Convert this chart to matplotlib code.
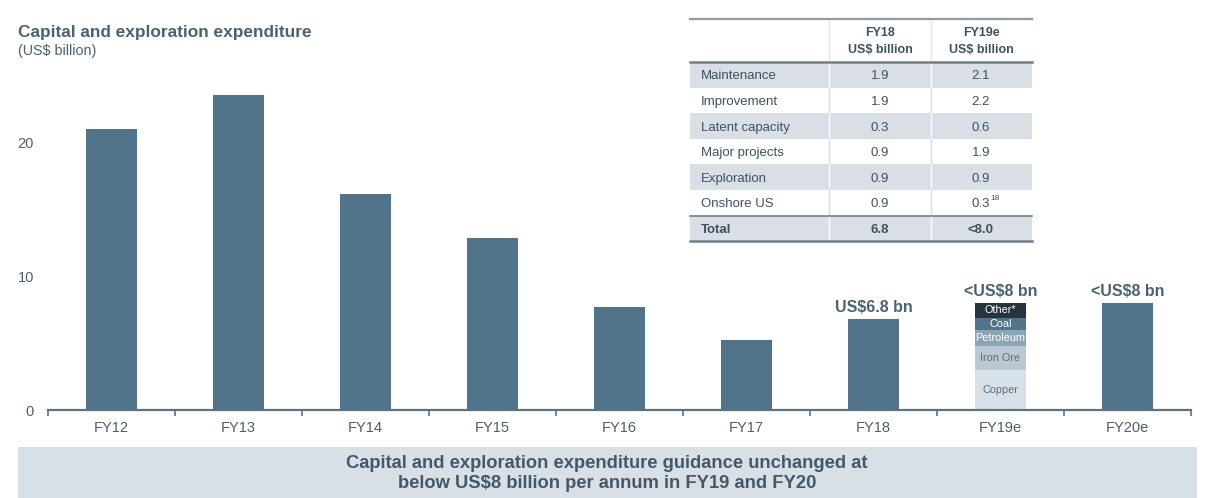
import matplotlib
matplotlib.use("Agg")
import matplotlib.pyplot as plt
from matplotlib.patches import Rectangle
from matplotlib.lines import Line2D

plt.rcParams['font.family'] = ['Liberation Sans', 'DejaVu Sans']

# ---------------- data ----------------
categories = ['FY12', 'FY13', 'FY14', 'FY15', 'FY16', 'FY17', 'FY18', 'FY19e', 'FY20e']
totals = [21.0, 23.5, 16.1, 12.8, 7.7, 5.2, 6.8, None, 8.0]
stack_labels = ['Copper', 'Iron Ore', 'Petroleum', 'Coal', 'Other*']
stack_values = [3.0, 1.8, 1.2, 0.9, 1.1]
bar_labels = {'FY18': 'US$6.8 bn', 'FY19e': '<US$8 bn', 'FY20e': '<US$8 bn'}
yticks = [0, 10, 20]

table_header = ['FY18\nUS$ billion', 'FY19e\nUS$ billion']
table_rows = ['Maintenance', 'Improvement', 'Latent capacity', 'Major projects',
              'Exploration', 'Onshore US', 'Total']
table_fy18 = ['1.9', '1.9', '0.3', '0.9', '0.9', '0.9', '6.8']
table_fy19 = ['2.1', '2.2', '0.6', '1.9', '0.9', '0.3', '<8.0']

title = 'Capital and exploration expenditure'
subtitle = '(US$ billion)'
banner = 'Capital and exploration expenditure guidance unchanged at\nbelow US$8 billion per annum in FY19 and FY20'

# ---------------- style ----------------
BAR = '#52748A'
STACK_COLORS = ['#D9E1E8', '#B9C8D2', '#8CA5B6', '#52748A', '#25343F']
STACK_TEXT = ['#5A6F7E', '#5A6F7E', 'white', 'white', 'white']
TXT = '#4B6273'
TICK = '#4D5F6D'
SHADE = '#D9DFE4'
TTXT = '#3E5262'

W, H = 1211, 498
fig = plt.figure(figsize=(W / 100, H / 100), dpi=100)

def fx(x):
    return x / W

def fy(y):
    return 1 - y / H

ymax = 26.0
ax_left, ax_right, ax_bottom = 48, 1191, 410
ax_top = ax_bottom - ymax * 13.4
ax = fig.add_axes([fx(ax_left), fy(ax_bottom), (ax_right - ax_left) / W, (ax_bottom - ax_top) / H])

xs = list(range(len(categories)))
bw = 0.40
for i, (c, v) in enumerate(zip(categories, totals)):
    if v is not None:
        ax.bar(i, v, width=bw, color=BAR, zorder=2)
    else:
        bottom = 0
        for lab, val, col, tc in zip(stack_labels, stack_values, STACK_COLORS, STACK_TEXT):
            ax.bar(i, val, width=bw, bottom=bottom, color=col, zorder=2)
            ax.text(i, bottom + val / 2, lab, ha='center', va='center', fontsize=7.8, color=tc, zorder=3)
            bottom += val
        v = bottom
    if c in bar_labels:
        ax.annotate(bar_labels[c], (i, v), xytext=(0, 3), textcoords='offset points',
                    ha='center', va='bottom', fontsize=11.5, fontweight='bold', color=TXT)

ax.set_xlim(-0.5, len(categories) - 0.5)
ax.set_ylim(0, ymax)
for s in ['top', 'right', 'left']:
    ax.spines[s].set_visible(False)
ax.spines['bottom'].set_color('#5E7180')
ax.spines['bottom'].set_linewidth(1.6)
ax.set_xticks(xs)
ax.set_xticklabels(categories, fontsize=10.5, color=TICK)
ax.tick_params(axis='x', which='major', length=0, pad=8)
ax.set_xticks([i - 0.5 for i in range(len(categories) + 1)], minor=True)
ax.tick_params(axis='x', which='minor', length=4, width=1.2, color='#5E7180', direction='out')
ax.set_yticks(yticks)
ax.set_yticklabels([str(t) for t in yticks], fontsize=10.5, color=TICK)
ax.tick_params(axis='y', length=0, pad=10)

# ---------------- titles ----------------
fig.text(fx(18), fy(32), title, fontsize=12.4, fontweight='bold', color=TXT, va='center', ha='left')
fig.text(fx(18), fy(51), subtitle, fontsize=10.3, color=TXT, va='center', ha='left')

# ---------------- table ----------------
tx0, tx1 = 690, 1032
col1, col2 = 829, 931
c1x, c2x = 880, 981
row_top = 62
row_h = 25.6
for r in range(len(table_rows)):
    y0 = row_top + r * row_h
    if r % 2 == 0:
        fig.add_artist(Rectangle((fx(tx0), fy(y0 + row_h)), (tx1 - tx0) / W, row_h / H,
                                 transform=fig.transFigure, color=SHADE, lw=0, zorder=1))
    lc = 'white' if r % 2 == 0 else '#D5DCE1'
    for cx in (col1, col2):
        fig.add_artist(Line2D([fx(cx), fx(cx)], [fy(y0), fy(y0 + row_h)], transform=fig.transFigure,
                              color=lc, lw=1.0, zorder=2))
    yc = y0 + row_h / 2 + 1.5
    fw = 'bold' if table_rows[r] == 'Total' else 'normal'
    fig.text(fx(701), fy(yc), table_rows[r], fontsize=9.5, fontweight=fw, color=TTXT, va='center', ha='left', zorder=3)
    fig.text(fx(c1x), fy(yc), table_fy18[r], fontsize=9.5, fontweight=fw, color=TTXT, va='center', ha='center', zorder=3)
    fig.text(fx(c2x), fy(yc), table_fy19[r], fontsize=9.5, fontweight=fw, color=TTXT, va='center', ha='center', zorder=3)
    if table_rows[r] == 'Onshore US':
        fig.text(fx(990), fy(yc - 6), '18', fontsize=6, color=TTXT, va='center', ha='left', zorder=3)

for cx, h in zip((c1x, c2x), table_header):
    fig.text(fx(cx), fy(41.5), h, fontsize=9, fontweight='bold', color=TTXT, va='center', ha='center',
             linespacing=1.45)
for cx in (col1, col2):
    fig.add_artist(Line2D([fx(cx), fx(cx)], [fy(21), fy(row_top)], transform=fig.transFigure,
                          color='#E3E7EA', lw=1.0))
table_bottom = row_top + len(table_rows) * row_h
for yl, lw, col in [(19.5, 1.6, '#8C9BA6'), (row_top, 1.8, '#6F808C'),
                    (row_top + 6 * row_h, 1.2, '#6F808C'), (table_bottom, 1.8, '#6F808C')]:
    fig.add_artist(Line2D([fx(tx0), fx(tx1)], [fy(yl), fy(yl)], transform=fig.transFigure,
                          color=col, lw=lw, zorder=4))

# ---------------- banner ----------------
fig.add_artist(Rectangle((fx(18), 0), (1197 - 18) / W, (H - 447) / H, transform=fig.transFigure,
                         color='#D8DFE5', lw=0, zorder=0))
fig.text(fx(607), fy(473.5), banner, fontsize=13.2, fontweight='bold', color='#42596A', ha='center', va='center',
         linespacing=1.25)

fig.savefig('out.png', dpi=100)
